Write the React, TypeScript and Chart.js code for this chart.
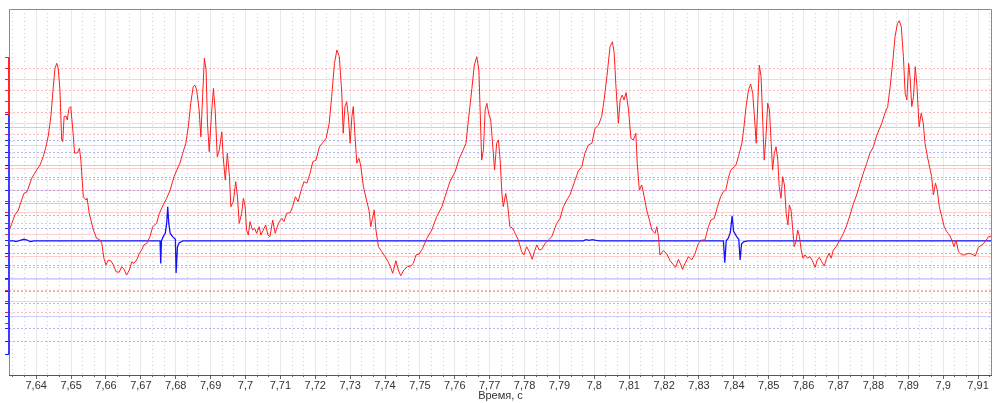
import React, { useEffect, useRef } from 'react';
import { Chart, registerables } from 'chart.js';

Chart.register(...registerables);

// ---- axis data ----
const xTitle = 'Время, с';
const xTickValues = [7.64, 7.65, 7.66, 7.67, 7.68, 7.69, 7.7, 7.71, 7.72, 7.73, 7.74, 7.75, 7.76, 7.77, 7.78, 7.79, 7.8, 7.81, 7.82, 7.83, 7.84, 7.85, 7.86, 7.87, 7.88, 7.89, 7.9, 7.91];
const xTickLabels = ['7,64', '7,65', '7,66', '7,67', '7,68', '7,69', '7,7', '7,71', '7,72', '7,73', '7,74', '7,75', '7,76', '7,77', '7,78', '7,79', '7,8', '7,81', '7,82', '7,83', '7,84', '7,85', '7,86', '7,87', '7,88', '7,89', '7,9', '7,91'];
const xRange = [7.6322, 7.914];
const redRange = [-6.32, 10.167];
const blueRange = [-3.555, 6.14];
const redAxisSpan = [-4, 8];
const blueAxisSpan = [-3, 10 / 3];
const redMajor = [-3, -2, -1, 0, 1, 2, 3, 4, 5, 6, 7];
const redMinor = [-4, -3.5, -3, -2.5, -2, -1.5, -1, -0.5, 0, 0.5, 1, 1.5, 2, 2.5, 3, 3.5, 4, 4.5, 5, 5.5, 6, 6.5, 7, 7.5, 8];
const blueMajor = [-2, -1, 0, 1, 2, 3];
const blueMinor = [-3, -8 / 3, -7 / 3, -2, -5 / 3, -4 / 3, -1, -2 / 3, -1 / 3, 0, 1 / 3, 2 / 3, 1, 4 / 3, 5 / 3, 2, 7 / 3, 8 / 3, 3, 10 / 3];

// ---- series: red channel ----
const redTime = [
  7.6323, 7.6330, 7.6339, 7.6349, 7.6358, 7.6365, 7.6374, 7.6387, 7.6401, 7.6411,
  7.6420, 7.6428, 7.6435, 7.6442, 7.6449, 7.6454, 7.6459, 7.6463, 7.6468, 7.6473,
  7.6476, 7.6480, 7.6485, 7.6489, 7.6494, 7.6499, 7.6505, 7.6510, 7.6518, 7.6524,
  7.6528, 7.6535, 7.6543, 7.6546, 7.6552, 7.6564, 7.6573, 7.6583, 7.6588, 7.6594,
  7.6600, 7.6607, 7.6614, 7.6621, 7.6629, 7.6638, 7.6645, 7.6652, 7.6659, 7.6667,
  7.6674, 7.6680, 7.6688, 7.6696, 7.6702, 7.6709, 7.6717, 7.6726, 7.6734, 7.6745,
  7.6753, 7.6764, 7.6774, 7.6784, 7.6795, 7.6803, 7.6812, 7.6820, 7.6829, 7.6836,
  7.6843, 7.6850, 7.6855, 7.6860, 7.6867, 7.6872, 7.6877, 7.6882, 7.6887, 7.6891,
  7.6896, 7.6902, 7.6908, 7.6913, 7.6919, 7.6925, 7.6932, 7.6936, 7.6942, 7.6948,
  7.6954, 7.6958, 7.6965, 7.6972, 7.6977, 7.6982, 7.6989, 7.6994, 7.6999, 7.7003,
  7.7008, 7.7013, 7.7020, 7.7026, 7.7032, 7.7039, 7.7044, 7.7051, 7.7058, 7.7064,
  7.7070, 7.7078, 7.7085, 7.7091, 7.7097, 7.7104, 7.7110, 7.7118, 7.7128, 7.7135,
  7.7143, 7.7151, 7.7161, 7.7168, 7.7176, 7.7185, 7.7193, 7.7202, 7.7212, 7.7221,
  7.7231, 7.7240, 7.7247, 7.7255, 7.7262, 7.7269,
  7.7276, 7.7280, 7.7285, 7.7290, 7.7295, 7.7300, 7.7305, 7.7309, 7.7314, 7.7319,
  7.7325, 7.7330, 7.7338, 7.7348, 7.7354, 7.7359, 7.7364, 7.7369, 7.7374, 7.7381,
  7.7391, 7.7400, 7.7409, 7.7416, 7.7422, 7.7431, 7.7438, 7.7445, 7.7454, 7.7464,
  7.7474, 7.7481, 7.7489, 7.7498, 7.7508, 7.7520, 7.7534, 7.7548, 7.7563, 7.7572,
  7.7586, 7.7601, 7.7613, 7.7624, 7.7632, 7.7639, 7.7649, 7.7656, 7.7663, 7.7669,
  7.7672, 7.7677, 7.7682, 7.7687, 7.7692, 7.7697, 7.7703, 7.7709, 7.7714, 7.7720,
  7.7725, 7.7730, 7.7735, 7.7739, 7.7746, 7.7751, 7.7758, 7.7766, 7.7773, 7.7782,
  7.7792, 7.7798, 7.7806, 7.7814, 7.7822, 7.7828, 7.7835, 7.7842, 7.7849, 7.7859,
  7.7868, 7.7878, 7.7892, 7.7902, 7.7911, 7.7921, 7.7930, 7.7945, 7.7954, 7.7964,
  7.7973, 7.7983, 7.7993, 7.8002, 7.8012, 7.8021, 7.8028, 7.8036, 7.8045, 7.8052,
  7.8057, 7.8062, 7.8069, 7.8074, 7.8080, 7.8085, 7.8091, 7.8098, 7.8105, 7.8112,
  7.8119, 7.8123, 7.8129, 7.8136, 7.8143, 7.8150, 7.8158, 7.8165, 7.8174, 7.8179,
  7.8184, 7.8188,
  7.8198, 7.8208, 7.8217, 7.8227, 7.8233, 7.8241, 7.8248, 7.8253, 7.8260, 7.8270,
  7.8279, 7.8289, 7.8298, 7.8308, 7.8317, 7.8327, 7.8334, 7.8344, 7.8353, 7.8362,
  7.8370, 7.8377, 7.8384, 7.8391, 7.8401, 7.8406, 7.8413, 7.8423, 7.8429, 7.8435,
  7.8442, 7.8448, 7.8454, 7.8459, 7.8464, 7.8469, 7.8473, 7.8478, 7.8483, 7.8487,
  7.8492, 7.8497, 7.8502, 7.8507, 7.8511, 7.8516, 7.8521, 7.8526, 7.8530, 7.8535,
  7.8540, 7.8545, 7.8550, 7.8555, 7.8559, 7.8564, 7.8569, 7.8573, 7.8578, 7.8583,
  7.8588, 7.8593, 7.8598, 7.8604, 7.8611, 7.8618, 7.8625, 7.8633, 7.8639, 7.8645,
  7.8652, 7.8659, 7.8666, 7.8673, 7.8679, 7.8685, 7.8693, 7.8704, 7.8714, 7.8724,
  7.8733, 7.8743, 7.8752, 7.8762, 7.8771, 7.8781, 7.8790, 7.8800, 7.8810, 7.8817,
  7.8824, 7.8833, 7.8841, 7.8848, 7.8856, 7.8862, 7.8869, 7.8874, 7.8880, 7.8886,
  7.8891, 7.8896, 7.8901, 7.8905, 7.8910, 7.8915, 7.8920, 7.8925, 7.8931, 7.8937,
  7.8943, 7.8948, 7.8955, 7.8960, 7.8967, 7.8972, 7.8978, 7.8983, 7.8989, 7.8996,
  7.9003, 7.9010, 7.9018, 7.9025, 7.9031, 7.9037, 7.9044, 7.9053, 7.9063, 7.9072,
  7.9082, 7.9092, 7.9101, 7.9111, 7.9120, 7.9130, 7.9139,
];
const redValue = [
  0.21, 0.51, 0.89, 1.11, 1.56, 1.86, 1.94, 2.54, 2.91, 3.14,
  3.51, 3.96, 4.49, 5.32, 6.67, 7.50, 7.72, 7.50, 6.52, 4.27,
  4.19, 5.32, 5.35, 5.17, 5.69, 5.77, 4.72, 3.67, 3.69, 3.89,
  3.36, 1.71, 1.56, 1.64, 0.96, 0.21, -0.16, -0.24, -0.39, -1.06,
  -1.36, -1.14, -1.17, -1.36, -1.67, -1.69, -1.44, -1.56, -1.82, -1.59,
  -1.22, -1.29, -1.14, -0.84, -0.69, -0.46, -0.39, -0.09, 0.36, 0.51,
  0.96, 1.34, 1.64, 2.01, 2.61, 2.91, 3.22, 3.67, 4.12, 4.86,
  5.92, 6.67, 6.74, 6.52, 5.62, 4.41, 6.22, 7.95, 7.42, 5.02,
  3.74, 5.32, 6.59, 5.62, 3.51, 3.82, 4.64, 3.51, 2.46, 3.67,
  2.61, 1.26, 1.49, 2.39, 1.71, 0.51, 0.96, 1.64, 1.26, 0.21,
  -0.01, 0.59, 0.21, 0.29, 0.06, 0.36, -0.01, 0.21, 0.44, -0.01,
  -0.09, 0.66, 0.06, 0.36, 0.59, 0.74, 0.59, 0.96, 0.99, 1.26,
  1.71, 1.49, 2.09, 2.39, 2.32, 2.77, 3.29, 3.36, 3.96, 4.14,
  4.34, 5.02, 6.22, 7.72, 8.32, 8.02,
  6.37, 4.57, 5.77, 5.99, 5.32, 4.12, 5.32, 5.77, 4.41, 3.22,
  3.44, 3.14, 2.16, 1.49, 1.11, 0.36, 0.74, 1.11, 0.21, -0.54,
  -0.77, -0.99, -1.22, -1.47, -1.74, -1.17, -1.59, -1.85, -1.59, -1.44,
  -1.41, -1.29, -0.91, -0.87, -0.61, -0.16, 0.21, 0.81, 1.26, 1.71,
  2.39, 2.84, 3.44, 3.82, 4.12, 5.17, 6.59, 7.64, 8.02, 7.42,
  5.92, 3.36, 3.82, 5.62, 5.92, 5.47, 5.17, 3.96, 2.91, 4.12,
  4.27, 3.36, 1.86, 1.26, 1.86, 1.41, 0.36, 0.29, 0.06, -0.24,
  -0.77, -0.91, -0.54, -0.77, -1.11, -0.77, -0.46, -0.69, -0.66, -0.39,
  -0.24, -0.09, 0.51, 0.74, 1.26, 1.56, 1.79, 2.46, 2.87, 3.06,
  3.67, 4.04, 4.12, 4.79, 4.94, 5.32, 6.07, 7.12, 8.47, 8.69,
  8.17, 6.67, 5.02, 6.07, 6.29, 6.07, 6.40, 5.62, 4.34, 4.27,
  4.57, 3.22, 2.01, 2.24, 1.71, 1.11, 0.66, 0.21, 0.06, 0.36,
  -0.09, -0.91,
  -0.72, -0.87, -1.17, -1.36, -1.47, -1.11, -1.36, -1.56, -1.29, -0.99,
  -1.14, -0.84, -0.39, -0.24, -0.24, 0.36, 0.66, 0.74, 1.26, 1.71,
  1.94, 2.01, 2.54, 2.91, 3.06, 3.14, 3.51, 4.12, 4.86, 5.77,
  6.52, 6.79, 6.37, 5.32, 4.12, 6.07, 7.64, 7.12, 5.02, 3.36,
  4.41, 5.92, 5.62, 4.12, 2.91, 3.67, 3.96, 3.36, 2.16, 1.64,
  2.61, 2.24, 0.96, 0.44, 1.34, 1.11, 0.21, -0.54, -0.32, 0.21,
  -0.09, -0.69, -1.06, -0.91, -1.06, -0.99, -1.17, -1.47, -1.14, -1.02,
  -1.22, -1.41, -1.06, -0.84, -1.06, -0.69, -0.54, -0.24, 0.06, 0.44,
  0.89, 1.41, 1.79, 2.32, 2.77, 3.22, 3.67, 3.96, 4.49, 4.75,
  5.02, 5.47, 5.77, 6.67, 7.87, 8.92, 9.52, 9.64, 9.37, 8.02,
  6.37, 6.07, 7.72, 7.12, 5.77, 6.22, 7.57, 6.67, 4.86, 5.47,
  5.02, 4.12, 3.51, 3.14, 2.61, 1.79, 2.32, 2.01, 1.26, 0.81,
  0.36, 0.14, -0.01, -0.24, -0.54, -0.24, -0.77, -0.91, -0.91, -0.84,
  -0.87, -0.96, -0.57, -0.46, -0.32, -0.09, -0.06,
];

// ---- series: blue channel ----
const blueTime = [
  7.6323, 7.6336, 7.6342, 7.6354, 7.6365, 7.6374, 7.6382, 7.6394,
  7.6755, 7.6757, 7.6759, 7.6764, 7.6770, 7.6774, 7.6777, 7.6780, 7.6784, 7.6791, 7.6799, 7.6801, 7.6805, 7.6810, 7.6821,
  7.7968, 7.7976, 7.7985, 7.7994, 7.8005, 7.8016,
  7.8370, 7.8374, 7.8378, 7.8384, 7.8390, 7.8395, 7.8399, 7.8408, 7.8414, 7.8418, 7.8422, 7.8429, 7.8441,
  7.9139,
];
const blueValue = [
  0, 0, -0.02, 0.01, 0.04, 0.02, -0.02, 0,
  0, -0.6, 0, 0.11, 0.2, 0.46, 0.9, 0.46, 0.2, 0.11, 0.04, -0.85, -0.16, -0.05, 0,
  0, 0.03, 0.01, 0.03, 0.01, 0,
  0, -0.58, 0, 0.07, 0.23, 0.66, 0.26, 0.11, 0.04, -0.51, -0.08, -0.02, 0,
  0,
];

const FONT = { family: "'Liberation Sans', Arial, sans-serif", size: 11 };
const TRANSPARENT = 'rgba(0,0,0,0)';

const xMinorTicks = (() => {
  const out: number[] = [];
  for (let k = 0; k <= 90; k++) {
    if (k % 3 === 0) continue;
    const v = 7.63 + k / 300;
    if (v > xRange[0] && v < xRange[1]) out.push(v);
  }
  return out;
})();

const framePlugin = {
  id: 'frame',
  afterDraw(chart: any) {
    const { ctx, chartArea: a, scales } = chart;
    ctx.save();
    ctx.lineWidth = 1;
    ctx.strokeStyle = '#8a8a8a';
    ctx.beginPath();
    ctx.moveTo(a.left + 0.5, a.bottom);
    ctx.lineTo(a.left + 0.5, a.top + 0.5);
    ctx.lineTo(a.right - 0.5, a.top + 0.5);
    ctx.lineTo(a.right - 0.5, a.bottom);
    ctx.stroke();
    ctx.strokeStyle = '#555';
    ctx.beginPath();
    ctx.moveTo(a.left, a.bottom + 0.5);
    ctx.lineTo(a.right, a.bottom + 0.5);
    ctx.stroke();
    const seg = (scale: any, span: number[], color: string) => {
      ctx.strokeStyle = color;
      ctx.lineWidth = 2;
      ctx.beginPath();
      ctx.moveTo(a.left, scale.getPixelForValue(span[1]));
      ctx.lineTo(a.left, scale.getPixelForValue(span[0]));
      ctx.stroke();
    };
    seg(scales.yR, redAxisSpan, 'rgb(255,40,40)');
    seg(scales.yB, blueAxisSpan, 'rgb(60,60,255)');
    ctx.restore();
  },
};

const zeroWidth = (s: any) => { s.width = 0; };
const setTicks = (vals: number[]) => (s: any) => { s.ticks = vals.map((v) => ({ value: v })); };

export default function App() {
  const ref = useRef<HTMLCanvasElement>(null);
  useEffect(() => {
    const redData = redTime.map((t, i) => ({ x: t, y: redValue[i] }));
    const blueData = blueTime.map((t, i) => ({ x: t, y: blueValue[i] }));
    const chart = new Chart(ref.current as HTMLCanvasElement, {
      type: 'line',
      data: {
        datasets: [
          { data: redData, xAxisID: 'x', yAxisID: 'yR', borderColor: 'rgb(255,30,30)', borderWidth: 1, pointRadius: 0, tension: 0, order: 1 },
          { data: blueData, xAxisID: 'x', yAxisID: 'yB', borderColor: 'rgb(20,20,255)', borderWidth: 1.3, pointRadius: 0, tension: 0, order: 2 },
        ],
      },
      options: {
        responsive: false,
        animation: false,
        devicePixelRatio: 1,
        events: [],
        layout: { padding: { left: 9, top: 9, right: 8, bottom: 0 } },
        plugins: { legend: { display: false }, tooltip: { enabled: false } },
        scales: {
          x: {
            type: 'linear', position: 'bottom', weight: 5, min: xRange[0], max: xRange[1], bounds: 'data',
            afterBuildTicks: setTicks(xTickValues),
            ticks: { autoSkip: false, maxRotation: 0, padding: 0.5, color: '#333', font: FONT, callback: (_v: any, i: number) => xTickLabels[i] },
            grid: { color: 'rgba(0,0,0,0.09)', tickColor: '#666', tickLength: 4, lineWidth: 1 },
            border: { display: false },
            title: { display: true, text: xTitle, color: '#333', font: FONT, padding: { top: 0, bottom: 0 } },
            afterFit: (s: any) => { s.height = 28; },
          },
          xm: {
            type: 'linear', position: 'bottom', weight: 0, min: xRange[0], max: xRange[1], bounds: 'data',
            afterBuildTicks: setTicks(xMinorTicks),
            ticks: { display: false },
            grid: { color: 'rgba(0,0,0,0.2)', tickColor: '#666', tickLength: 2, lineWidth: 1 },
            border: { display: false, dash: [1, 3] },
            afterFit: (s: any) => { s.height = 0; },
          },
          yR: {
            type: 'linear', position: 'left', min: redRange[0], max: redRange[1], bounds: 'data',
            afterBuildTicks: setTicks(redMajor),
            ticks: { display: false },
            grid: { color: 'rgba(255,140,140,0.4)', drawTicks: false },
            border: { display: false },
            afterFit: zeroWidth,
          },
          yRm: {
            type: 'linear', position: 'left', min: redRange[0], max: redRange[1], bounds: 'data',
            afterBuildTicks: setTicks(redMinor),
            ticks: { display: false },
            grid: {
              color: (c: any) => {
                const v = c.tick ? c.tick.value : 0;
                return Number.isInteger(v) ? TRANSPARENT : 'rgba(255,100,100,0.45)';
              },
              tickColor: 'rgb(255,30,30)', tickLength: 4,
            },
            border: { display: false, dash: [2, 2] },
            afterFit: zeroWidth,
          },
          yB: {
            type: 'linear', position: 'left', min: blueRange[0], max: blueRange[1], bounds: 'data',
            afterBuildTicks: setTicks(blueMajor),
            ticks: { display: false },
            grid: { color: 'rgba(140,140,255,0.45)', drawTicks: false },
            border: { display: false },
            afterFit: zeroWidth,
          },
          yBm: {
            type: 'linear', position: 'left', min: blueRange[0], max: blueRange[1], bounds: 'data',
            afterBuildTicks: setTicks(blueMinor),
            ticks: { display: false },
            grid: {
              color: (c: any) => {
                const v = c.tick ? c.tick.value : 0;
                const isMajor = Math.abs(v - Math.round(v)) < 1e-6;
                const isEnd = Math.abs(v - blueAxisSpan[0]) < 1e-6 || Math.abs(v - blueAxisSpan[1]) < 1e-6;
                return isMajor || isEnd ? TRANSPARENT : 'rgba(110,110,255,0.5)';
              },
              tickColor: 'rgb(30,30,255)', tickLength: 4,
            },
            border: { display: false, dash: [2, 2] },
            afterFit: zeroWidth,
          },
        },
      } as any,
      plugins: [framePlugin],
    });
    return () => chart.destroy();
  }, []);
  return (
    <div style={{ position: 'fixed', left: 0, top: 0, width: 1000, height: 403, background: '#fff' }}>
      <canvas ref={ref} width={1000} height={403} style={{ display: 'block', width: 1000, height: 403 }} />
    </div>
  );
}
